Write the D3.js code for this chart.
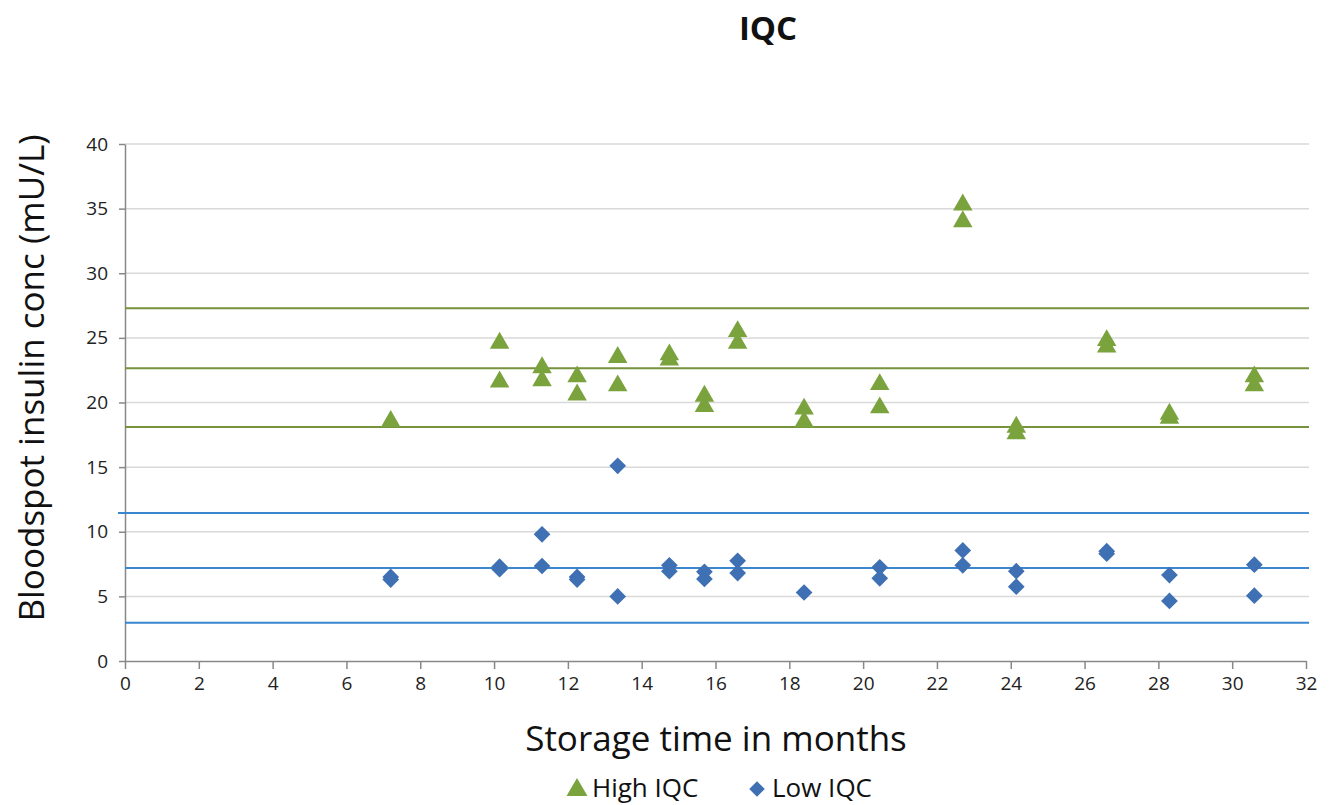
<!DOCTYPE html>
<html><head><meta charset="utf-8">
<script src="https://cdn.jsdelivr.net/npm/d3@7"></script>
<style>body{margin:0;background:#fff;} svg{display:block;}</style>
</head><body>
<svg id="c" width="1331" height="805"></svg>
<script>
const highX = [7.2,10.15,10.15,11.3,11.3,12.25,12.25,13.35,13.35,14.75,14.75,15.7,15.7,16.6,16.6,18.4,18.4,20.45,20.45,22.7,22.7,24.15,24.15,26.6,26.6,28.3,28.3,30.6,30.6];
const highY = [18.55,24.6,21.6,22.7,21.7,22.0,20.6,23.5,21.3,23.7,23.3,20.5,19.7,25.5,24.6,19.5,18.5,21.4,19.6,35.3,34.0,18.1,17.6,24.8,24.3,19.1,18.8,22.0,21.3];
const lowX = [7.2,7.2,10.15,10.15,11.3,11.3,12.25,12.25,13.35,13.35,14.75,14.75,15.7,15.7,16.6,16.6,18.4,20.45,20.45,22.7,22.7,24.15,24.15,26.6,26.6,28.3,28.3,30.6,30.6];
const lowY = [6.5,6.3,7.3,7.1,9.8,7.35,6.5,6.3,15.1,5.0,7.4,6.95,6.9,6.35,7.75,6.8,5.3,7.25,6.4,8.55,7.4,6.95,5.75,8.5,8.3,6.65,4.65,7.45,5.05];
const highRefs = [27.3, 22.65, 18.1];
const lowRefs = [11.45, 7.2, 2.95];
const xTicks = d3.range(0, 33, 2);
const yTicks = d3.range(0, 41, 5);
const title = "IQC";
const xTitle = "Storage time in months";
const yTitle = "Bloodspot insulin conc (mU/L)";
const seriesNames = ["High IQC", "Low IQC"];

const svg = d3.select("#c");
const font = "'Open Sans', 'Noto Sans', sans-serif";
const m = {l:125, r:1306, t:144, b:661};
const x = d3.scaleLinear().domain([0,32]).range([m.l, m.r]);
const y = d3.scaleLinear().domain([0,40]).range([m.b, m.t]);
const green = "#7aa33e", greenLine = "#76923c", blue = "#3f70b3", blueLine = "#3a86cf";

// gridlines
svg.append("g").selectAll("line").data(yTicks.filter(d=>d>0)).join("line")
  .attr("x1", m.l).attr("x2", m.r+3).attr("y1", d=>y(d)).attr("y2", d=>y(d))
  .attr("stroke", "#d9d9d9").attr("stroke-width", 1.5);

// axes
const xAxis = svg.append("g").attr("transform", `translate(0,${m.b})`)
  .call(d3.axisBottom(x).tickValues(xTicks).tickSize(8).tickSizeOuter(0).tickPadding(8));
const yAxis = svg.append("g").attr("transform", `translate(${m.l},0)`)
  .call(d3.axisLeft(y).tickValues(yTicks).tickSize(6).tickSizeOuter(0).tickPadding(11));
[xAxis, yAxis].forEach(a => {
  a.select(".domain").attr("stroke", "#888").attr("stroke-width", 1.5);
  a.selectAll(".tick line").attr("stroke", "#888").attr("stroke-width", 1.5);
  a.selectAll("text").attr("font-family", font).attr("font-size", 19).attr("fill", "#222");
});

// reference lines
svg.append("g").selectAll("line").data(highRefs).join("line")
  .attr("x1", m.l).attr("x2", m.r+3).attr("y1", d=>y(d)).attr("y2", d=>y(d))
  .attr("stroke", greenLine).attr("stroke-width", 2);
svg.append("g").selectAll("line").data(lowRefs).join("line")
  .attr("x1", (d,i)=> i===0 ? m.l-7 : m.l).attr("x2", m.r+3).attr("y1", d=>y(d)).attr("y2", d=>y(d))
  .attr("stroke", blueLine).attr("stroke-width", 2);

// markers
const tri = d3.symbol().type(d3.symbolTriangle).size(165);
const dia = d3.symbol().type(d3.symbolSquare).size(140);
svg.append("g").selectAll("path").data(lowX.map((v,i)=>[v, lowY[i]])).join("path")
  .attr("d", dia).attr("transform", d=>`translate(${x(d[0])},${y(d[1])}) rotate(45)`)
  .attr("fill", blue);
svg.append("g").selectAll("path").data(highX.map((v,i)=>[v, highY[i]])).join("path")
  .attr("d", tri).attr("transform", d=>`translate(${x(d[0])},${y(d[1])})`)
  .attr("fill", green);

// titles
svg.append("text").attr("x", 768).attr("y", 40).attr("text-anchor", "middle")
  .attr("font-family", font).attr("font-weight", "bold").attr("font-size", 33).attr("fill", "#111").text(title);
svg.append("text").attr("x", 716).attr("y", 751).attr("text-anchor", "middle")
  .attr("font-family", font).attr("font-size", 35).attr("fill", "#111").text(xTitle);
svg.append("text").attr("transform", "translate(44,378) rotate(-90)").attr("text-anchor", "middle")
  .attr("font-family", font).attr("font-size", 35).attr("fill", "#111").text(yTitle);

// legend
const lg = svg.append("g");
lg.append("path").attr("d", d3.symbol().type(d3.symbolTriangle).size(190)).attr("transform", "translate(577,790)").attr("fill", green);
lg.append("text").attr("x", 592).attr("y", 797).attr("font-family", font).attr("font-size", 26).attr("fill", "#111").text(seriesNames[0]);
lg.append("path").attr("d", d3.symbol().type(d3.symbolSquare).size(120)).attr("transform", "translate(757,789) rotate(45)").attr("fill", blue);
lg.append("text").attr("x", 772).attr("y", 797).attr("font-family", font).attr("font-size", 26).attr("fill", "#111").text(seriesNames[1]);
</script>
</body></html>
